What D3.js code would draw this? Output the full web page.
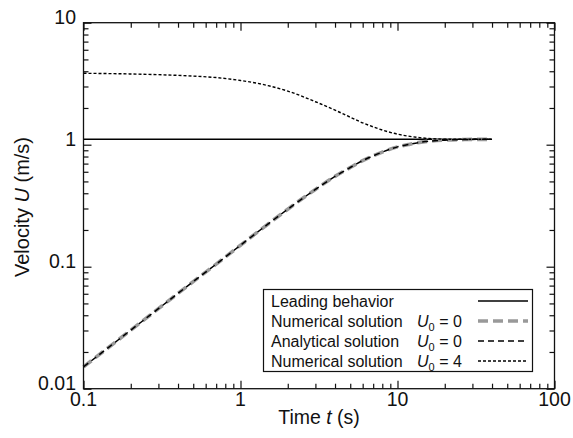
<!DOCTYPE html>
<html><head><meta charset="utf-8">
<script src="https://cdn.jsdelivr.net/npm/d3@7"></script>
<style>body{margin:0;background:#fff}svg{display:block}text{font-family:"Liberation Sans",Arial,sans-serif;fill:#111}</style>
</head><body><svg id="c" width="573" height="438"></svg>
<script>
// Data
const tLead = [0.1, 40];
const uLead = [1.107, 1.107];
const tNum0 = [0.1, 0.2, 0.3, 0.5, 0.7, 1, 1.5, 2, 3, 4, 5, 6, 7, 8, 10, 12, 15, 20, 25, 30, 40];
const uNum0 = [0.0151, 0.0302, 0.0453, 0.0755, 0.105, 0.150, 0.224, 0.296, 0.43, 0.55, 0.65, 0.74, 0.81, 0.87, 0.96, 1.01, 1.06, 1.09, 1.10, 1.105, 1.107];
const tAna0 = [0.1, 0.2, 0.3, 0.5, 0.7, 1, 1.5, 2, 3, 4, 5, 6, 7, 8, 10, 12, 15, 20, 25, 30, 40];
const uAna0 = [0.0151, 0.0302, 0.0453, 0.0755, 0.105, 0.150, 0.224, 0.296, 0.43, 0.55, 0.65, 0.74, 0.81, 0.87, 0.96, 1.01, 1.06, 1.09, 1.10, 1.105, 1.107];
const tNum4 = [0.1, 0.2, 0.3, 0.5, 0.7, 1, 1.5, 2, 3, 4, 5, 6, 7, 8, 10, 12, 15, 20, 25, 30, 40];
const uNum4 = [3.85, 3.80, 3.75, 3.65, 3.55, 3.36, 3.05, 2.75, 2.25, 1.92, 1.68, 1.51, 1.4, 1.32, 1.22, 1.17, 1.13, 1.11, 1.107, 1.107, 1.107];
const xMajor = [0.1, 1, 10, 100];
const xMajorLabels = ["0.1", "1", "10", "100"];
const yMajor = [0.01, 0.1, 1, 10];
const yMajorLabels = ["0.01", "0.1", "1", "10"];
const legendNames = ["Leading behavior", "Numerical solution", "Analytical solution", "Numerical solution"];
const legendU0 = [null, "0", "0", "4"];

const svg = d3.select("#c");
const L = 83.5, R = 554.5, T = 22.7, B = 388.7;
const x = d3.scaleLog().domain([0.1, 100]).range([L, R]);
const y = d3.scaleLog().domain([0.01, 10]).range([B, T]);

function minors(lo, hi) {
  const out = [];
  for (let d = lo; d < hi; d *= 10) for (let k = 2; k <= 9; k++) out.push(+(k * d).toPrecision(3));
  return out;
}
const xMinor = minors(0.1, 100), yMinor = minors(0.01, 10);

const axG = svg.append("g");
function addAxis(gen, scale, vals, size, tr) {
  const a = gen(scale).tickValues(vals).tickSize(-size).tickFormat("");
  const g = axG.append("g").attr("transform", tr).call(a);
  g.select(".domain").remove();
  g.selectAll("line").attr("stroke", "#111").attr("stroke-width", 1.2);
}
addAxis(d3.axisBottom, x, xMajor, 8, `translate(0,${B})`);
addAxis(d3.axisBottom, x, xMinor, 5, `translate(0,${B})`);
addAxis(d3.axisTop, x, xMajor, 8, `translate(0,${T})`);
addAxis(d3.axisTop, x, xMinor, 5, `translate(0,${T})`);
addAxis(d3.axisLeft, y, yMajor, 8, `translate(${L},0)`);
addAxis(d3.axisLeft, y, yMinor, 5, `translate(${L},0)`);
addAxis(d3.axisRight, y, yMajor, 8, `translate(${R},0)`);
addAxis(d3.axisRight, y, yMinor, 5, `translate(${R},0)`);

// tick labels
svg.append("g").selectAll("text").data(xMajor).join("text")
  .attr("x", d => x(d)).attr("y", 406).attr("text-anchor", "middle")
  .attr("font-size", 19.5).text((d, i) => xMajorLabels[i]);
svg.append("g").selectAll("text").data(yMajor).join("text")
  .attr("x", 76).attr("y", d => y(d) + 1).attr("text-anchor", "end")
  .attr("font-size", 19.5).text((d, i) => yMajorLabels[i]);

// axis titles
const xt = svg.append("text").attr("x", (L + R) / 2).attr("y", 424).attr("text-anchor", "middle").attr("font-size", 19.5);
xt.append("tspan").text("Time ");
xt.append("tspan").attr("font-style", "italic").text("t");
xt.append("tspan").text(" (s)");
const yt = svg.append("text").attr("transform", "translate(29,207) rotate(-90)").attr("text-anchor", "middle").attr("font-size", 20);
yt.append("tspan").text("Velocity ");
yt.append("tspan").attr("font-style", "italic").text("U");
yt.append("tspan").text(" (m/s)");

// lines
const line = d3.line().x(d => x(d[0])).y(d => y(d[1])).curve(d3.curveMonotoneX);
const zip = (a, b) => a.map((v, i) => [v, b[i]]);
const plot = svg.append("g");
const styles = [
  {stroke: "#000", w: 1.6, dash: null},
  {stroke: "#999", w: 3.6, dash: "10,5"},
  {stroke: "#000", w: 1.5, dash: "6,4"},
  {stroke: "#000", w: 1.4, dash: "3,2"}
];
const series = [zip(tLead, uLead), zip(tNum0, uNum0), zip(tAna0, uAna0), zip(tNum4, uNum4)];
series.forEach((s, i) => {
  plot.append("path").attr("d", line(s)).attr("fill", "none")
    .attr("stroke", styles[i].stroke).attr("stroke-width", styles[i].w)
    .attr("stroke-dasharray", styles[i].dash);
});

// frame
svg.append("rect").attr("x", L).attr("y", T).attr("width", R - L).attr("height", B - T)
  .attr("fill", "none").attr("stroke", "#111").attr("stroke-width", 1.3);

// legend
const lg = svg.append("g");
lg.append("rect").attr("x", 263.5).attr("y", 289.5).attr("width", 269).attr("height", 82)
  .attr("fill", "#fff").attr("stroke", "#111").attr("stroke-width", 1.2);
legendNames.forEach((name, i) => {
  const cy = 301 + i * 20;
  lg.append("text").attr("x", 271).attr("y", cy + 6).attr("font-size", 16).text(name);
  if (legendU0[i] !== null) {
    const t = lg.append("text").attr("x", 417).attr("y", cy + 6).attr("font-size", 16);
    t.append("tspan").attr("font-style", "italic").text("U");
    t.append("tspan").attr("font-size", 11).attr("dy", 4).text("0");
    t.append("tspan").attr("dy", -4).text(" = " + legendU0[i]);
  }
  lg.append("line").attr("x1", 478).attr("x2", 528).attr("y1", cy).attr("y2", cy)
    .attr("stroke", styles[i].stroke).attr("stroke-width", styles[i].w)
    .attr("stroke-dasharray", styles[i].dash);
});
</script></body></html>
